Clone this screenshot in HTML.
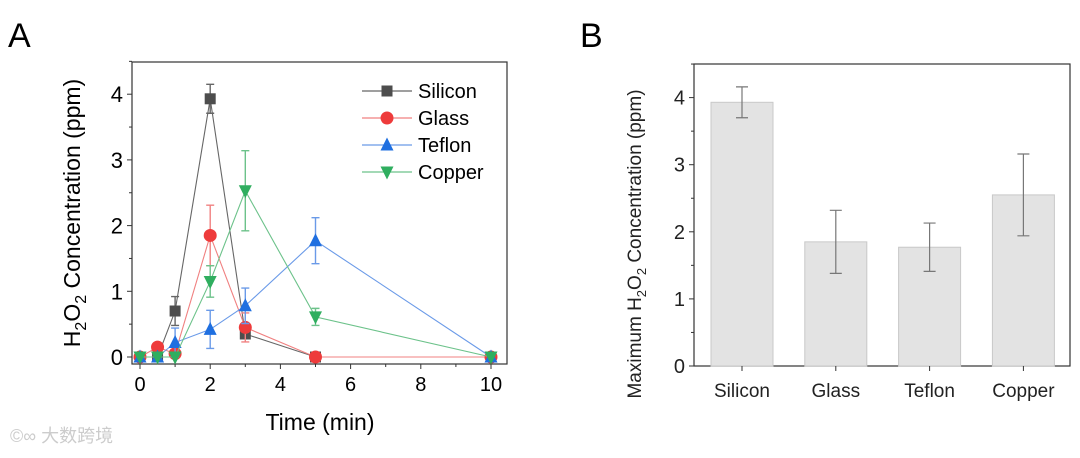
<!DOCTYPE html>
<html><head><meta charset="utf-8"><style>
body{margin:0;background:#fff;}
svg{font-family:"Liberation Sans",Arial,sans-serif;}
</style></head><body>
<svg id="s" width="1080" height="453" viewBox="0 0 1080 453" xmlns="http://www.w3.org/2000/svg">
<text x="8" y="47" font-size="34">A</text>
<text x="580" y="47" font-size="34">B</text>
<g id="ga"></g>
<g id="gb"></g>
<text x="10" y="442" font-size="18" fill="#ccc" font-family="'Liberation Sans','Noto Sans CJK SC',sans-serif">©∞ 大数跨境</text>
</svg>
<script>
const times=[0,0.5,1,2,3,5,10];
const siliconVals=[0,0,0.7,3.93,0.35,0,0];
const siliconErr=[0,0,0.22,0.22,0.05,0,0];
const glassVals=[0,0.15,0.05,1.85,0.45,0,0];
const glassErr=[0,0,0,0.46,0.22,0,0];
const teflonVals=[0,0,0.22,0.42,0.78,1.77,0];
const teflonErr=[0,0,0.22,0.29,0.27,0.35,0];
const copperVals=[0,0,0,1.15,2.53,0.61,0];
const copperErr=[0,0,0,0.24,0.61,0.13,0];
const seriesNames=["Silicon","Glass","Teflon","Copper"];
const xTicks=[0,2,4,6,8,10];
const yTicks=[0,1,2,3,4];
const barCats=["Silicon","Glass","Teflon","Copper"];
const barVals=[3.93,1.85,1.77,2.55];
const barErr=[0.23,0.47,0.36,0.61];

const NS="http://www.w3.org/2000/svg";
function mk(p,t,a,txt){const e=document.createElementNS(NS,t);for(const k in a)e.setAttribute(k,a[k]);if(txt!==undefined)e.textContent=txt;p.appendChild(e);return e;}
// Panel A
const ga=document.getElementById('ga');
const ax=v=>140+v*35.1, ay=v=>357-v*65.7;
let e=mk(ga,'rect',{x:132,y:62,width:375,height:302,fill:'none',stroke:'#333','stroke-width':1.2});

xTicks.forEach(t=>{let l=mk(ga,'line',{x1:ax(t),x2:ax(t),y1:364,y2:369,stroke:'#333'});

if(ax(t+1)<507){let m=mk(ga,'line',{x1:ax(t+1),x2:ax(t+1),y1:364,y2:367,stroke:'#333'});
}
let tx=mk(ga,'text',{x:ax(t),y:391,'font-size':20,'text-anchor':'middle'},t);
});
yTicks.forEach(t=>{let l=mk(ga,'line',{x1:127,x2:132,y1:ay(t),y2:ay(t),stroke:'#333'});

let m=mk(ga,'line',{x1:129,x2:132,y1:ay(t+0.5),y2:ay(t+0.5),stroke:'#333'});

let tx=mk(ga,'text',{x:123,y:ay(t)+8,'font-size':22,'text-anchor':'end'},t);
});
e=mk(ga,'text',{x:320,y:430,'font-size':23,'text-anchor':'middle'},'Time (min)');

e=mk(ga,'text',{transform:'translate(80,213) rotate(-90)','font-size':23,'text-anchor':'middle'});
e.innerHTML='H<tspan font-size="16" dy="6">2</tspan><tspan dy="-6">O</tspan><tspan font-size="16" dy="6">2</tspan><tspan dy="-6"> Concentration (ppm)</tspan>';

const cols=["#4d4d4d","#ee3b3b","#1f6fe0","#2fae5f"];
const lcols=["#666","#f08080","#6a9ae8","#6cc28a"];
const vals=[siliconVals,glassVals,teflonVals,copperVals];
const errs=[siliconErr,glassErr,teflonErr,copperErr];
function marker(g,i,x,y,s){
 if(i==0)return mk(g,'rect',{x:x-s,y:y-s,width:2*s,height:2*s,fill:cols[0]});
 if(i==1)return mk(g,'circle',{cx:x,cy:y,r:s+1,fill:cols[1]});
 if(i==2)return mk(g,'polygon',{points:`${x},${y-s-2} ${x-s-1},${y+s} ${x+s+1},${y+s}`,fill:cols[2]});
 return mk(g,'polygon',{points:`${x},${y+s+2} ${x-s-1},${y-s} ${x+s+1},${y-s}`,fill:cols[3]});
}
vals.forEach((v,i)=>{
 const g=mk(ga,'g',{});
 
 let p=mk(g,'polyline',{points:times.map((t,j)=>ax(t)+','+ay(v[j])).join(' '),fill:'none',stroke:lcols[i],'stroke-width':1.1});
 
 times.forEach((t,j)=>{const x=ax(t);
  if(errs[i][j]>0){const y1=ay(v[j]+errs[i][j]),y2=ay(v[j]-errs[i][j]);
   let b=mk(g,'path',{d:`M${x},${y1}V${y2}M${x-4},${y1}H${x+4}M${x-4},${y2}H${x+4}`,stroke:lcols[i],'stroke-width':1.4,fill:'none'});
   }
  let m=marker(g,i,x,ay(v[j]),5.5);
  });
 const ly=91+i*27;
 let lg=mk(ga,'g',{});
 
 mk(lg,'line',{x1:362,x2:412,y1:ly,y2:ly,stroke:lcols[i],'stroke-width':1.2});
 marker(lg,i,387,ly,5.5);
 mk(lg,'text',{x:418,y:ly+7,'font-size':20},seriesNames[i]);
});
// Panel B
const gb=document.getElementById('gb');
const by=v=>366-v*67.1, bx=i=>742+i*93.8;
e=mk(gb,'rect',{x:694,y:64,width:376,height:302,fill:'none',stroke:'#333','stroke-width':1.2});

barCats.forEach((c,i)=>{
 let r=mk(gb,'rect',{x:bx(i)-31,y:by(barVals[i]),width:62,height:by(0)-by(barVals[i]),fill:'#e3e3e3',stroke:'#c8c8c8'});
 
 const x=bx(i),y1=by(barVals[i]+barErr[i]),y2=by(barVals[i]-barErr[i]);
 let b=mk(gb,'path',{d:`M${x},${y1}V${y2}M${x-6},${y1}H${x+6}M${x-6},${y2}H${x+6}`,stroke:'#777','stroke-width':1.2,fill:'none'});
 
 let l=mk(gb,'line',{x1:x,x2:x,y1:366,y2:371,stroke:'#333'});
 
 let t=mk(gb,'text',{x:x,y:397,'font-size':19,'text-anchor':'middle',fill:'#222'},c);
 
});
yTicks.forEach(t=>{let l=mk(gb,'line',{x1:689,x2:694,y1:by(t),y2:by(t),stroke:'#333'});

let m=mk(gb,'line',{x1:691,x2:694,y1:by(t+0.5),y2:by(t+0.5),stroke:'#333'});

let tx=mk(gb,'text',{x:685,y:by(t)+7,'font-size':20,'text-anchor':'end',fill:'#222'},t);
});
e=mk(gb,'text',{transform:'translate(641,244) rotate(-90)','font-size':19,'text-anchor':'middle',fill:'#222'});
e.innerHTML='Maximum H<tspan font-size="13" dy="5">2</tspan><tspan dy="-5">O</tspan><tspan font-size="13" dy="5">2</tspan><tspan dy="-5"> Concentration (ppm)</tspan>';

</script>
</body></html>
